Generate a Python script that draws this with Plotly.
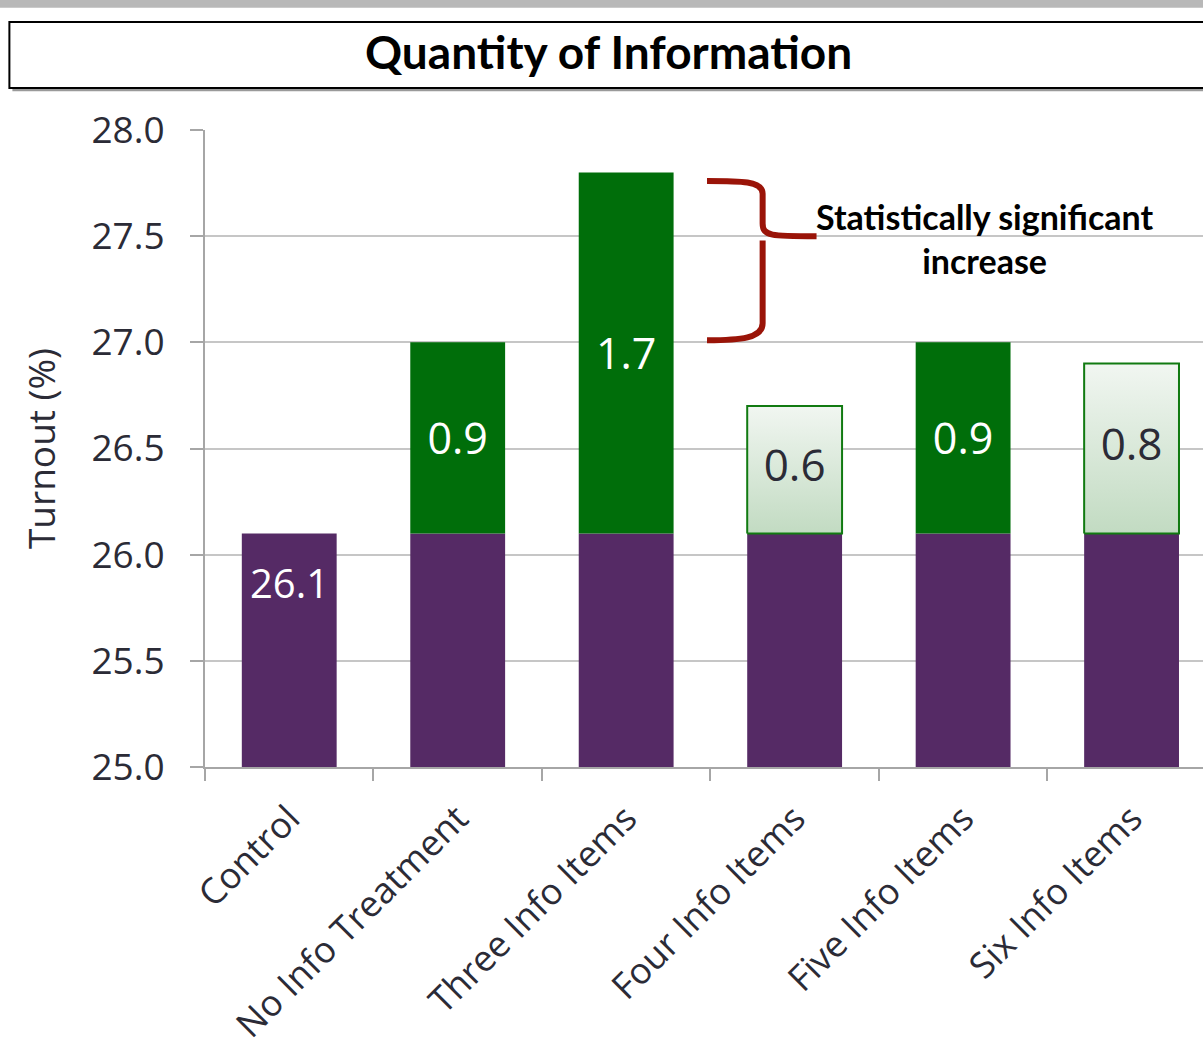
import plotly.graph_objects as go

# Turnout by quantity of information in the mailing
categories = ["Control", "No Info Treatment", "Three Info Items",
              "Four Info Items", "Five Info Items", "Six Info Items"]
base_turnout = 26.1
increases = [0.0, 0.9, 1.7, 0.6, 0.9, 0.8]
significant = [False, True, True, False, True, False]
y_ticks = [25.0, 25.5, 26.0, 26.5, 27.0, 27.5, 28.0]

PURPLE = "#552a65"
DARK_GREEN = "#006e0a"
EDGE_GREEN = "#117a11"
TEXT_DARK = "#2b2b36"
BAR_W = 0.563
FONT = "Open Sans"
BOLD_FONT = "Lato"

xs = list(range(len(categories)))
fig = go.Figure()

# base turnout shared by every group
fig.add_trace(go.Bar(
    x=xs, y=[base_turnout] * len(xs), base=0, width=BAR_W,
    marker=dict(color=PURPLE, line=dict(width=0)),
    hoverinfo="skip", showlegend=False,
))

# statistically significant increases: solid green on top of the base
sig_vals = [inc if (sig and inc > 0) else None for inc, sig in zip(increases, significant)]
fig.add_trace(go.Bar(
    x=xs, y=sig_vals, base=[base_turnout] * len(xs), width=BAR_W,
    marker=dict(color=DARK_GREEN, line=dict(width=0)),
    text=[f"{v:.1f}" if v is not None else "" for v in sig_vals],
    textposition="inside", insidetextanchor="middle",
    textfont=dict(family=FONT, size=43, color="white"),
    hoverinfo="skip", showlegend=False,
))

# non-significant increases: pale gradient boxes with a green outline
for i, (inc, sig) in enumerate(zip(increases, significant)):
    if sig or inc <= 0:
        continue
    top = base_turnout + inc
    fig.add_trace(go.Scatter(
        x=[i - BAR_W / 2, i + BAR_W / 2, i + BAR_W / 2, i - BAR_W / 2, i - BAR_W / 2],
        y=[base_turnout, base_turnout, top, top, base_turnout],
        mode="lines", fill="toself",
        fillgradient=dict(type="vertical",
                          colorscale=[[0, "#c2dbc2"], [1, "#f1f6f1"]]),
        line=dict(color=EDGE_GREEN, width=2),
        hoverinfo="skip", showlegend=False,
    ))
    fig.add_trace(go.Scatter(
        x=[i], y=[base_turnout + inc / 2], mode="text",
        text=[f"{inc:.1f}"],
        textfont=dict(family=FONT, size=44, color=TEXT_DARK),
        hoverinfo="skip", showlegend=False,
    ))

# value label on the control bar
fig.add_annotation(
    x=0, y=base_turnout, text=f"{base_turnout:.1f}", showarrow=False,
    yanchor="top", yshift=-20,
    font=dict(family=FONT, size=40, color="white"),
)

# curly bracket marking the significant jump
bx0, bx1, bx2 = 2.48, 2.81, 3.13
bracket = (
    f"M {bx0},27.76 C {bx0 + 0.2},27.76 {bx1},27.76 {bx1},27.70 "
    f"L {bx1},27.56 C {bx1},27.50 {bx1 + 0.05},27.50 {bx2},27.50 "
    f"M {bx1},27.48 C {bx1},27.46 {bx1},27.45 {bx1},27.44 "
    f"L {bx1},27.09 C {bx1},27.02 {bx0 + 0.2},27.01 {bx0},27.01"
)
fig.add_shape(type="path", path=bracket, xref="x", yref="y",
              line=dict(color="#9a1408", width=6))
fig.add_annotation(
    x=4.125, y=27.49, xref="x", yref="y", xanchor="center", yanchor="middle",
    text="Statistically significant<br>increase", showarrow=False,
    font=dict(family=BOLD_FONT, size=34, color="black", weight="bold"),
    align="center",
)

# title banner
fig.add_shape(type="rect", xref="paper", yref="paper",
              x0=-0.193, x1=1.02, y0=1.061, y1=1.165,
              fillcolor="#9a9a9a", line=dict(width=0), layer="below")
fig.add_shape(type="rect", xref="paper", yref="paper",
              x0=-0.196, x1=1.02, y0=1.066, y1=1.1695,
              fillcolor="white", line=dict(color="black", width=2))
fig.add_shape(type="rect", xref="paper", yref="paper",
              x0=-0.21, x1=1.02, y0=1.192, y1=1.21,
              fillcolor="#b8b8b8", line=dict(width=0))
fig.add_annotation(
    x=0.404, y=1.1235, xref="paper", yref="paper",
    xanchor="center", yanchor="middle",
    text="Quantity of Information", showarrow=False,
    font=dict(family=BOLD_FONT, size=46, color="black", weight="bold"),
)

fig.update_layout(
    width=1203, height=1049,
    margin=dict(l=205, r=0, t=130, b=282, autoexpand=False),
    paper_bgcolor="white", plot_bgcolor="white",
    barmode="overlay", showlegend=False,
    xaxis=dict(
        range=[-0.5, 5.424], tickmode="array", tickvals=xs, ticktext=categories,
        tickangle=-45, ticks="", showgrid=False, zeroline=False,
        showline=True, linecolor="#a6a6a6", linewidth=2,
        ticklabelstandoff=14, automargin=False,
        tickfont=dict(family=FONT, size=36, color=TEXT_DARK),
        minor=dict(tickmode="linear", tick0=-0.5, dtick=1, ticks="outside",
                   ticklen=12, tickwidth=2, tickcolor="#a6a6a6", showgrid=False),
    ),
    yaxis=dict(
        range=[25, 28], tickmode="array", tickvals=y_ticks,
        ticktext=[f"{v:.1f}" for v in y_ticks],
        ticks="outside", ticklen=13, tickwidth=2, tickcolor="#a6a6a6",
        ticklabelstandoff=18, automargin=False,
        showgrid=True, gridcolor="#c6c6c6", gridwidth=1.5, zeroline=False,
        showline=True, linecolor="#a6a6a6", linewidth=2,
        tickfont=dict(family=FONT, size=37, color=TEXT_DARK),
        title=dict(text="Turnout (%)", standoff=24,
                   font=dict(family=FONT, size=37, color=TEXT_DARK)),
    ),
)

fig.write_html("out.html")
